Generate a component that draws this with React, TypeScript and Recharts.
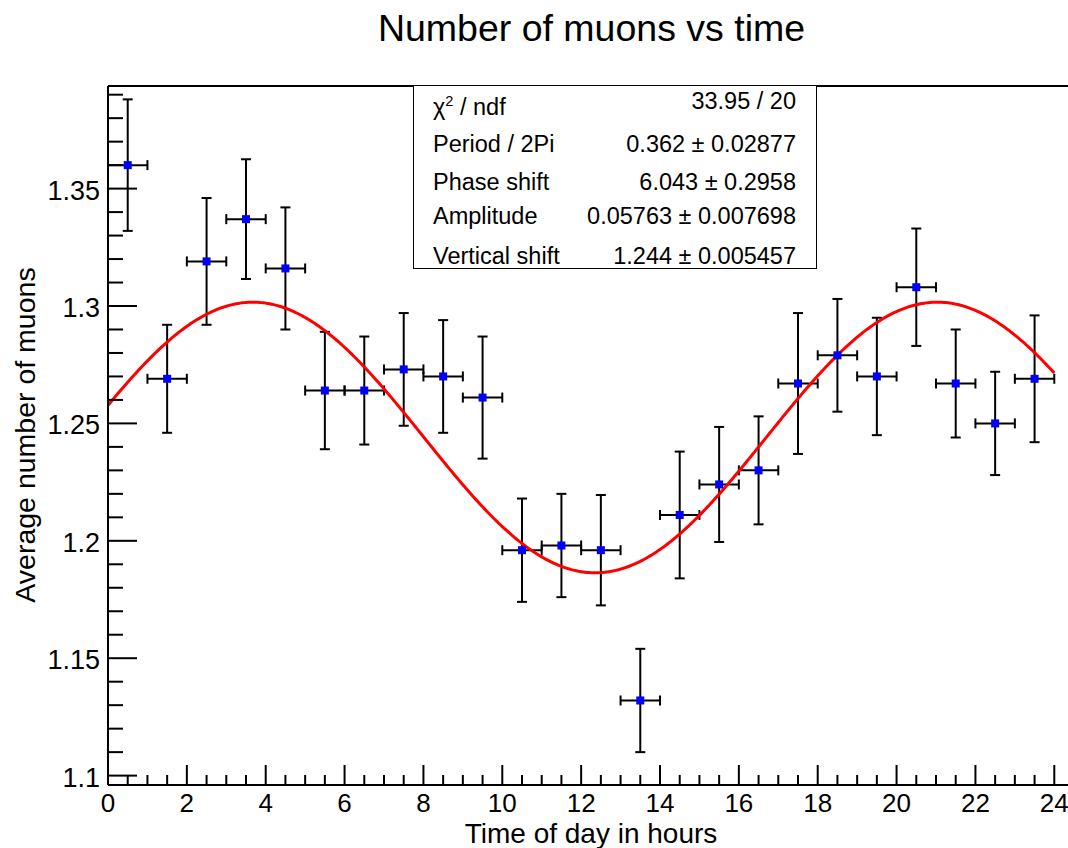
import { ComposedChart, XAxis, YAxis, Scatter, Line, ErrorBar, ReferenceLine } from 'recharts'

// hourly bins (bin centre), average muon count and its error
const hours = [0.5, 1.5, 2.5, 3.5, 4.5, 5.5, 6.5, 7.5, 8.5, 9.5, 10.5, 11.5, 12.5, 13.5, 14.5, 15.5, 16.5, 17.5, 18.5, 19.5, 20.5, 21.5, 22.5, 23.5]
const muons = [1.360, 1.269, 1.319, 1.337, 1.316, 1.264, 1.264, 1.273, 1.270, 1.261, 1.196, 1.198, 1.196, 1.132, 1.211, 1.224, 1.230, 1.267, 1.279, 1.270, 1.308, 1.267, 1.250, 1.269]
const muonErrors = [0.028, 0.023, 0.027, 0.0255, 0.026, 0.025, 0.023, 0.024, 0.024, 0.026, 0.022, 0.022, 0.0235, 0.022, 0.027, 0.0245, 0.023, 0.030, 0.024, 0.025, 0.025, 0.023, 0.022, 0.027]
const hourErrors = [0.5, 0.5, 0.5, 0.5, 0.5, 0.5, 0.5, 0.5, 0.5, 0.5, 0.5, 0.5, 0.5, 0.5, 0.5, 0.5, 0.5, 0.5, 0.5, 0.5, 0.5, 0.5, 0.5, 0.5]

// fit result: f(t) = shift + amp * sin(omega * t - phase)
const chi2 = 33.95
const ndf = 20
const omega = 0.362
const omegaErr = 0.02877
const phase = 6.043
const phaseErr = 0.2958
const amp = 0.05763
const ampErr = 0.007698
const shift = 1.244
const shiftErr = 0.005457

const yMajorTicks = [1.1, 1.15, 1.2, 1.25, 1.3, 1.35]
const xMajorTicks = [0, 2, 4, 6, 8, 10, 12, 14, 16, 18, 20, 22, 24]

const X_MIN = 0
const X_MAX = 24.5
const Y_MIN = 1.096
const Y_MAX = 1.3937

const FONT = '"Liberation Sans", Arial, Helvetica, sans-serif'

const points = hours.map((x, i) => ({ x, y: muons[i], ex: hourErrors[i], ey: muonErrors[i] }))

const fitCurve: { x: number; y: number }[] = []
for (let t = 0; t <= 24.0001; t += 0.05) {
  fitCurve.push({ x: t, y: shift + amp * Math.sin(omega * t - phase) })
}

// minor ticks every 0.01 on y, every 0.5 h on x
const yTicks: number[] = []
for (let k = 110; k <= 139; k++) yTicks.push(k / 100)
const xTicks: number[] = []
for (let k = 0; k <= 48; k++) xTicks.push(k / 2)

function YTick(props: any) {
  const { x, y, payload } = props
  const v = payload.value
  const major = yMajorTicks.some((m) => Math.abs(m - v) < 1e-6)
  return (
    <g>
      <line x1={x} x2={x + (major ? 29 : 15)} y1={y} y2={y} stroke="#000" strokeWidth={2} />
      {major && (
        <text x={x - 8} y={y + 2} textAnchor="end" dominantBaseline="central" fontSize={27} fontFamily={FONT} fill="#000">
          {String(Number(v.toFixed(2)))}
        </text>
      )}
    </g>
  )
}

function XTick(props: any) {
  const { x, y, payload } = props
  const v = payload.value
  const major = xMajorTicks.some((m) => Math.abs(m - v) < 1e-6)
  return (
    <g>
      <line x1={x} x2={x} y1={y} y2={y - (major ? 20 : 10)} stroke="#000" strokeWidth={2} />
      {major && (
        <text x={x} y={y + 18} textAnchor="middle" dominantBaseline="central" fontSize={26} fontFamily={FONT} fill="#000">
          {v}
        </text>
      )}
    </g>
  )
}

function SquareMarker(props: any) {
  const { cx, cy } = props
  if (cx == null || cy == null) return null
  return <rect x={cx - 4} y={cy - 4} width={8} height={8} fill="#0000ff" />
}

const statRows: { label: React.ReactNode; value: string; cy: number }[] = [
  { label: <>χ<sup style={{ fontSize: '0.62em' }}>2</sup> / ndf</>, value: `${chi2} / ${ndf}`, cy: 100 },
  { label: 'Period / 2Pi', value: `${omega} ± ${omegaErr}`, cy: 143 },
  { label: 'Phase shift', value: `${phase} ± ${phaseErr}`, cy: 181 },
  { label: 'Amplitude', value: `${amp} ± ${ampErr}`, cy: 215 },
  { label: 'Vertical shift', value: `${shift} ± ${shiftErr}`, cy: 255 },
]

export default function App() {
  return (
    <div
      style={{
        position: 'absolute',
        left: 0,
        top: 0,
        width: 1068,
        height: 848,
        overflow: 'hidden',
        background: '#fff',
        fontFamily: FONT,
      }}
    >
      <ComposedChart width={1076} height={848} margin={{ top: 86, right: 2, bottom: 0, left: 0 }}>
        <XAxis
          type="number"
          dataKey="x"
          domain={[X_MIN, X_MAX]}
          allowDataOverflow
          ticks={xTicks}
          interval={0}
          tick={<XTick />}
          tickLine={false}
          tickSize={0}
          tickMargin={0}
          height={63}
          axisLine={{ stroke: '#000', strokeWidth: 2 }}
        />
        <YAxis
          type="number"
          dataKey="y"
          domain={[Y_MIN, Y_MAX]}
          allowDataOverflow
          ticks={yTicks}
          interval={0}
          tick={<YTick />}
          tickLine={false}
          tickSize={0}
          tickMargin={0}
          width={108}
          axisLine={{ stroke: '#000', strokeWidth: 2 }}
        />
        <ReferenceLine y={Y_MAX} stroke="#000" strokeWidth={2} />
        <Scatter data={points} dataKey="y" shape={<SquareMarker />} isAnimationActive={false}>
          <ErrorBar dataKey="ey" direction="y" width={5} stroke="#000" strokeWidth={2} isAnimationActive={false} />
          <ErrorBar dataKey="ex" direction="x" width={5} stroke="#000" strokeWidth={2} isAnimationActive={false} />
        </Scatter>
        <Line
          data={fitCurve}
          dataKey="y"
          type="linear"
          stroke="#ff0000"
          strokeWidth={3}
          dot={false}
          activeDot={false}
          isAnimationActive={false}
        />
      </ComposedChart>

      {/* title */}
      <div
        style={{
          position: 'absolute',
          left: 0,
          width: 1183,
          top: 6,
          textAlign: 'center',
          fontSize: 37.5,
          lineHeight: '44px',
          color: '#000',
        }}
      >
        Number of muons vs time
      </div>

      {/* axis titles */}
      <div
        style={{
          position: 'absolute',
          left: 0,
          width: 1182,
          top: 823,
          textAlign: 'center',
          fontSize: 28,
          lineHeight: '22px',
          color: '#000',
        }}
      >
        Time of day in hours
      </div>
      <div
        style={{
          position: 'absolute',
          left: 25,
          top: 435,
          transform: 'translate(-50%, -50%) rotate(-90deg)',
          whiteSpace: 'nowrap',
          fontSize: 28.5,
          lineHeight: '34px',
          color: '#000',
        }}
      >
        Average number of muons
      </div>

      {/* fit statistics box */}
      <div
        style={{
          position: 'absolute',
          left: 413,
          top: 85,
          width: 404,
          height: 184,
          border: '1.5px solid #000',
          background: '#fff',
          boxSizing: 'border-box',
        }}
      >
        {statRows.map((r, i) => (
          <div
            key={i}
            style={{
              position: 'absolute',
              left: 19,
              right: 20,
              top: r.cy - 85 - 14,
              height: 28,
              lineHeight: '28px',
              display: 'flex',
              justifyContent: 'space-between',
              fontSize: 23.5,
              color: '#000',
            }}
          >
            <span>{r.label}</span>
            <span>{r.value}</span>
          </div>
        ))}
      </div>
    </div>
  )
}
